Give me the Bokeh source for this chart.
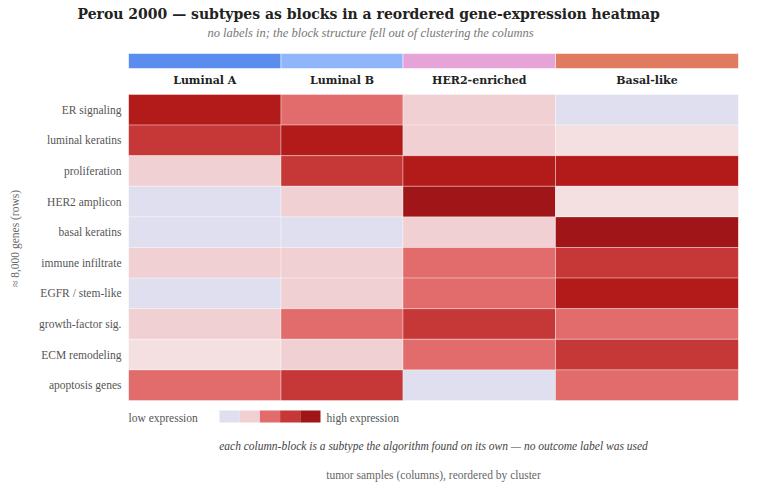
import math
from bokeh.plotting import figure
from bokeh.models import Range1d, FixedTicker, Label, ColumnDataSource, LinearColorMapper, Title
from bokeh.core.properties import value
from bokeh.embed import file_html
from bokeh.resources import INLINE

# ---------------- data ----------------
subtypes = ["Luminal A", "Luminal B", "HER2-enriched", "Basal-like"]
n_samples = [25, 20, 25, 30]
subtype_colors = ["#5b8def", "#8fb6fb", "#e5a3d8", "#e07b5f"]

genes = ["ER signaling", "luminal keratins", "proliferation", "HER2 amplicon",
         "basal keratins", "immune infiltrate", "EGFR / stem-like",
         "growth-factor sig.", "ECM remodeling", "apoptosis genes"]

# expression level per gene block (0 = lowest ... 6 = highest), columns = subtypes
lum_a = [5, 4, 2, 0, 0, 2, 0, 2, 1, 3]
lum_b = [3, 5, 4, 2, 0, 2, 2, 3, 2, 4]
her2 = [2, 2, 5, 6, 2, 3, 3, 4, 3, 0]
basal = [0, 1, 5, 1, 6, 4, 5, 3, 4, 3]

palette = ["#e0dff0", "#f4e0e0", "#f0d0d2", "#e26b6b", "#c63838", "#b31b1b", "#a01518"]
legend_levels = [0, 2, 3, 4, 6]

BOLD_FONT = "DejaVu Serif"
FONT = "Liberation Serif"

# ---------------- geometry helpers ----------------
ROW_PX = 30.6
PX_X = 6.1
n_rows = len(genes)
FRAME_TOP, HEAT_TOP, HEAT_BOT, FRAME_BOT = 24, 94, 400, 452

def sy(py):   # screen y (px from top) -> data y
    return n_rows - (py - HEAT_TOP) / ROW_PX

def sx(px):   # screen x -> data x
    return (px - 128) / PX_X

total = sum(n_samples)
starts = [sum(n_samples[:j]) for j in range(len(n_samples))]
centers = [s + n / 2 for s, n in zip(starts, n_samples)]

p = figure(width=768, height=498, output_backend="svg", toolbar_location=None,
           x_range=Range1d(0, total), y_range=Range1d(sy(FRAME_BOT), sy(FRAME_TOP)),
           min_border_left=128, min_border_right=30,
           min_border_top=FRAME_TOP, min_border_bottom=498 - FRAME_BOT)
p.outline_line_color = None
p.xgrid.visible = False
p.ygrid.visible = False
p.background_fill_color = "white"
p.border_fill_color = "white"

# heatmap cells
xs, ys, ws, lv = [], [], [], []
cols = [lum_a, lum_b, her2, basal]
for j, col in enumerate(cols):
    for i, v in enumerate(col):
        xs.append(centers[j])
        ws.append(n_samples[j])
        ys.append(n_rows - i - 0.5)
        lv.append(v)
mapper = LinearColorMapper(palette=palette, low=-0.5, high=len(palette) - 0.5)
src = ColumnDataSource(dict(x=xs, y=ys, w=ws, level=lv))
p.rect(x="x", y="y", width="w", height=1, source=src,
       fill_color={"field": "level", "transform": mapper},
       line_color="white", line_alpha=0.35, line_width=1)

# subtype colour band
band_lo = sy(68)
band_hi = sy(53)
p.rect(x=centers, y=[(band_lo + band_hi) / 2] * 4, width=n_samples,
       height=band_hi - band_lo, fill_color=subtype_colors,
       line_color="white", line_alpha=0.5, line_width=1)

# subtype header labels
p.text(x=centers, y=[sy(80)] * 4, text=subtypes, text_align="center",
       text_baseline="middle", text_font=value(BOLD_FONT), text_font_style="bold",
       text_font_size="11px", text_color="#222222")

# y axis: gene blocks
p.yaxis.ticker = FixedTicker(ticks=[n_rows - i - 0.5 for i in range(n_rows)])
p.yaxis.major_label_overrides = {n_rows - i - 0.5: g for i, g in enumerate(genes)}
p.yaxis.axis_line_color = None
p.yaxis.major_tick_line_color = None
p.yaxis.minor_tick_line_color = None
p.yaxis.major_label_standoff = 1
p.yaxis.major_label_text_font = FONT
p.yaxis.major_label_text_font_size = "11.5px"
p.yaxis.major_label_text_color = "#555555"
p.yaxis.axis_label = "\u2248 8,000 genes (rows)"
p.yaxis.axis_label_text_font = FONT
p.yaxis.axis_label_text_font_style = "normal"
p.yaxis.axis_label_text_font_size = "11.5px"
p.yaxis.axis_label_text_color = "#666666"
p.yaxis.axis_label_standoff = 15

# x axis: only its label
p.xaxis.ticker = FixedTicker(ticks=[])
p.xaxis.axis_line_color = None
p.xaxis.major_tick_line_color = None
p.xaxis.minor_tick_line_color = None
p.xaxis.axis_label = "tumor samples (columns), reordered by cluster"
p.xaxis.axis_label_text_font = FONT
p.xaxis.axis_label_text_font_style = "normal"
p.xaxis.axis_label_text_font_size = "11.5px"
p.xaxis.axis_label_text_color = "#666666"
p.xaxis.axis_label_standoff = 16

# legend
sw_w = 20.2 / PX_X
sw_x0 = sx(219)
p.rect(x=[sw_x0 + sw_w * (k + 0.5) for k in range(len(legend_levels))],
       y=[sy(416)] * len(legend_levels), width=sw_w, height=12 / ROW_PX,
       fill_color=[palette[k] for k in legend_levels], line_color=None)
p.add_layout(Label(x=0, y=sy(417), text="low expression", text_align="left",
                   text_baseline="middle", text_font=FONT, text_font_size="11.5px",
                   text_color="#555555"))
p.add_layout(Label(x=sx(326), y=sy(417), text="high expression", text_align="left",
                   text_baseline="middle", text_font=FONT, text_font_size="11.5px",
                   text_color="#555555"))

# caption
p.add_layout(Label(x=total / 2, y=sy(445), text="each column-block is a subtype the algorithm found on its own \u2014 no outcome label was used",
                   text_align="center", text_baseline="middle", text_font=FONT,
                   text_font_style="italic", text_font_size="11.5px", text_color="#444444"))

# subtitle
p.add_layout(Label(x=sx(370), y=sy(32), text="no labels in; the block structure fell out of clustering the columns",
                   text_align="center", text_baseline="middle", text_font=FONT,
                   text_font_style="italic", text_font_size="12.5px", text_color="#777777"))

# title
p.add_layout(Title(text="Perou 2000 \u2014 subtypes as blocks in a reordered gene-expression heatmap",
                   align="left", offset=-51, text_font=BOLD_FONT, text_font_style="bold",
                   text_font_size="14px", text_color="#222222", standoff=5), "above")

open("out.html", "w").write(file_html(p, INLINE))
